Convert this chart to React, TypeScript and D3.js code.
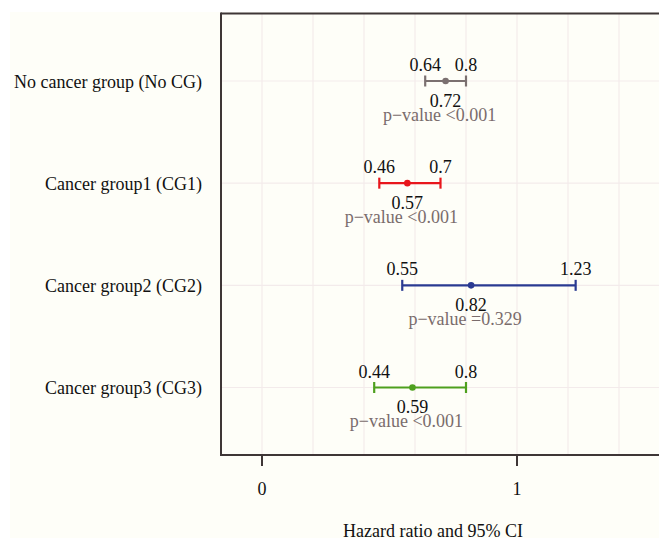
import React from "react";
import * as d3 from "d3";

const groups = [
  "No cancer group (No CG)",
  "Cancer group1 (CG1)",
  "Cancer group2 (CG2)",
  "Cancer group3 (CG3)",
];
const hr = [0.72, 0.57, 0.82, 0.59];
const lower = [0.64, 0.46, 0.55, 0.44];
const upper = [0.8, 0.7, 1.23, 0.8];
const pLabels = [
  "p\u2212value <0.001",
  "p\u2212value <0.001",
  "p\u2212value =0.329",
  "p\u2212value <0.001",
];
const colors = ["#7b7070", "#e8161c", "#2a3a92", "#4ea01e"];
const xTicks = [0, 1];
const gridTicks = [0, 0.2, 0.4, 0.6, 0.8, 1.0, 1.2, 1.4, 1.6];

const W = 659;
const H = 538;
const panelLeft = 221;
const panelTop = 13.5;
const panelBottom = 455;
const font = "'Liberation Serif', 'Times New Roman', serif";

export default function App() {
  const x = d3.scaleLinear().domain([0, 1]).range([262, 517]);
  const y = d3.scalePoint<string>().domain(groups).range([81, 387.5]);
  const border = "#3e3636";
  return (
    <svg
      width={W}
      height={H}
      style={{ position: "absolute", left: 0, top: 0 }}
      fontFamily={font}
    >
      <rect x={0} y={0} width={W} height={H} fill="#ffffff" />
      <rect x={10} y={12} width={W - 10} height={H - 12} fill="#fefef8" />
      {/* grid */}
      {gridTicks.map((t) => (
        <line
          key={"gx" + t}
          x1={x(t)}
          x2={x(t)}
          y1={panelTop}
          y2={panelBottom}
          stroke="#f3ebeb"
          strokeWidth={1.2}
        />
      ))}
      {groups.map((g) => (
        <line
          key={"gy" + g}
          x1={panelLeft}
          x2={W}
          y1={y(g)}
          y2={y(g)}
          stroke="#f3ebeb"
          strokeWidth={1.2}
        />
      ))}
      {/* panel border */}
      <line x1={panelLeft} x2={W} y1={panelTop} y2={panelTop} stroke={border} strokeWidth={2} />
      <line x1={panelLeft} x2={W} y1={panelBottom} y2={panelBottom} stroke={border} strokeWidth={2} />
      <line x1={panelLeft} x2={panelLeft} y1={panelTop - 1} y2={panelBottom + 1} stroke={border} strokeWidth={2} />
      {/* x axis */}
      {xTicks.map((t) => (
        <g key={"xt" + t}>
          <line x1={x(t)} x2={x(t)} y1={panelBottom} y2={466} stroke={border} strokeWidth={2} />
          <text x={x(t)} y={495} textAnchor="middle" fontSize={18} fill="#111">
            {String(t)}
          </text>
        </g>
      ))}
      <text x={433} y={536.5} textAnchor="middle" fontSize={18} fill="#111">
        Hazard ratio and 95% CI
      </text>
      {/* y labels */}
      {groups.map((g) => (
        <text key={"yl" + g} x={202} y={(y(g) as number) + 6.5} textAnchor="end" fontSize={18} fill="#111">
          {g}
        </text>
      ))}
      {/* error bars */}
      {groups.map((g, i) => {
        const cy = y(g) as number;
        const c = colors[i];
        return (
          <g key={"eb" + g}>
            <line x1={x(lower[i])} x2={x(upper[i])} y1={cy} y2={cy} stroke={c} strokeWidth={2.2} />
            <line x1={x(lower[i])} x2={x(lower[i])} y1={cy - 5.5} y2={cy + 5.5} stroke={c} strokeWidth={2.2} />
            <line x1={x(upper[i])} x2={x(upper[i])} y1={cy - 5.5} y2={cy + 5.5} stroke={c} strokeWidth={2.2} />
            <circle cx={x(hr[i])} cy={cy} r={3.3} fill={c} />
            <text x={x(lower[i])} y={cy - 10} textAnchor="middle" fontSize={18} fill="#111">
              {String(lower[i])}
            </text>
            <text x={x(upper[i])} y={cy - 10} textAnchor="middle" fontSize={18} fill="#111">
              {String(upper[i])}
            </text>
            <text x={x(hr[i])} y={cy + 25.5} textAnchor="middle" fontSize={18} fill="#111">
              {String(hr[i])}
            </text>
            <text x={x(hr[i]) - 6} y={cy + 39.5} textAnchor="middle" fontSize={18} fill="#7a6c6c">
              {pLabels[i]}
            </text>
          </g>
        );
      })}
    </svg>
  );
}
